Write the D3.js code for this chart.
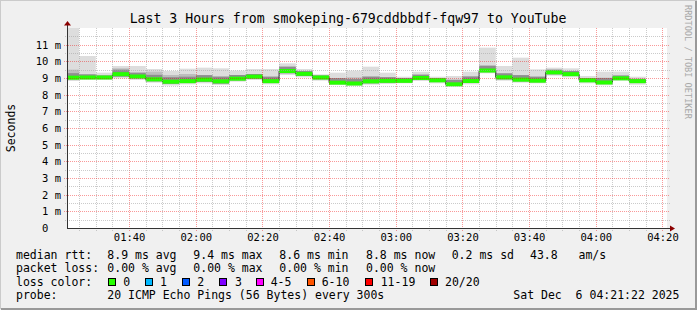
<!DOCTYPE html>
<html><head><meta charset="utf-8">
<script src="https://cdn.jsdelivr.net/npm/d3@7/dist/d3.min.js"></script>
<style>
body{margin:0;background:#f0f0f0;}
svg{display:block;}
text{font-family:"DejaVu Sans Mono",monospace;fill:#000;white-space:pre;}
</style></head><body>
<svg id="c" width="697" height="310"></svg>
<script>
// ---- data ----
const dayStr = "2025-12-06";
const rangeStart = "01:21:22";
const rangeEnd = "04:21:22";
const bucketEnds = ["01:25","01:30","01:35","01:40","01:45","01:50","01:55",
  "02:00","02:05","02:10","02:15","02:20","02:25","02:30","02:35","02:40","02:45","02:50","02:55",
  "03:00","03:05","03:10","03:15","03:20","03:25","03:30","03:35","03:40","03:45","03:50","03:55",
  "04:00","04:05","04:10","04:15"];
const rttMedian = [9.02,9.03,9.03,9.23,9.09,8.92,8.78,8.81,8.90,8.80,8.96,9.08,8.81,9.42,9.25,9.03,8.72,8.67,8.80,8.83,8.83,9.00,8.86,8.62,8.82,9.45,9.04,8.90,8.84,9.34,9.23,8.86,8.73,8.98,8.81];
const rttMax = [12.3,10.32,9.32,9.72,9.72,9.54,9.42,9.56,9.62,9.58,9.44,9.54,9.54,9.88,9.54,9.22,9.32,9.44,9.68,9.32,9.08,9.37,9.08,9.12,9.38,10.82,9.72,10.22,9.52,9.62,9.58,9.12,9.38,9.38,9.08];
const rttMin = [8.82,8.88,8.88,8.98,8.88,8.72,8.55,8.62,8.68,8.58,8.78,8.88,8.62,9.18,9.04,8.84,8.58,8.52,8.60,8.64,8.68,8.82,8.68,8.50,8.62,9.28,8.84,8.72,8.68,9.14,9.04,8.68,8.57,8.84,8.60];
const rttHigh = [9.50,9.22,9.15,9.58,9.32,9.38,9.18,9.24,9.18,9.12,9.18,9.24,9.08,9.68,9.42,9.15,9.00,9.04,9.12,9.05,9.00,9.20,9.00,8.90,9.10,9.78,9.28,9.18,9.08,9.50,9.42,9.00,9.02,9.15,8.95];
const rttLow = [8.92,8.95,8.95,9.08,8.98,8.80,8.65,8.70,8.76,8.66,8.86,8.96,8.70,9.28,9.12,8.92,8.64,8.58,8.68,8.72,8.74,8.90,8.76,8.55,8.70,9.35,8.92,8.80,8.75,9.22,9.12,8.76,8.64,8.90,8.70];
const yTicks = [0,1,2,3,4,5,6,7,8,9,10,11];
const yMinor = [0.5,1.5,2.5,3.5,4.5,5.5,6.5,7.5,8.5,9.5,10.5,11.5];
const yMaxVal = 12;
const title = "Last 3 Hours from smokeping-679cddbbdf-fqw97 to YouTube";
const yTitle = "Seconds";
const watermark = "RRDTOOL / TOBI OETIKER";
const rowLabels = ["median rtt:","packet loss:","loss color:","probe:"];
const rttStats = ["8.9 ms avg","9.4 ms max","8.6 ms min","8.8 ms now","0.2 ms sd","43.8   am/s"];
const lossStats = ["0.00 % avg","0.00 % max","0.00 % min","0.00 % now"];
const lossLabels = ["0","1","2","3","4-5","6-10","11-19","20/20"];
const lossColors = ["#26ff00","#00b8ff","#0059ff","#7e00ff","#ff00ff","#ff5500","#ff0000","#a00000"];
const probeText = "20 ICMP Echo Pings (56 Bytes) every 300s";
const stamp = "Sat Dec  6 04:21:22 2025";

// ---- layout ----
const L=67,R=667,T=28,B=228;
const svg = d3.select("#c");
const parse = d3.timeParse("%Y-%m-%d %H:%M:%S");
const t0 = parse(dayStr+" "+rangeStart), t1 = parse(dayStr+" "+rangeEnd);
const x = d3.scaleTime().domain([t0,t1]).range([L,R]);
const y = d3.scaleLinear().domain([0,yMaxVal]).range([B,T]);

// background & frame
svg.append("rect").attr("width",697).attr("height",310).attr("fill","#f0f0f0");
svg.append("path").attr("d","M0,309V0H697").attr("fill","none").attr("stroke","#cbcbcb").attr("stroke-width",2);
svg.append("path").attr("d","M1,309H696V1").attr("fill","none").attr("stroke","#999999").attr("stroke-width",2);
svg.append("rect").attr("x",L).attr("y",T).attr("width",R-L).attr("height",B-T).attr("fill","#ffffff");

svg.append("clipPath").attr("id","pc").append("rect").attr("x",L).attr("y",T).attr("width",R-L).attr("height",B-T);
const g = svg.append("g").attr("clip-path","url(#pc)");

const buckets = bucketEnds.map((s,i)=>{
  const e = parse(dayStr+" "+s+":00");
  const st = d3.timeMinute.offset(e,-5);
  return {x0: Math.max(L, x(st)), x1: x(e), med: rttMedian[i], max: rttMax[i], min: rttMin[i], hi: rttHigh[i], lo: rttLow[i]};
});

// smoke
g.selectAll(".s1").data(buckets).join("rect")
  .attr("x",d=>d.x0).attr("width",d=>d.x1-d.x0)
  .attr("y",d=>y(d.max)).attr("height",d=>y(d.min)-y(d.max)).attr("fill","#dddddd");
g.selectAll(".s2").data(buckets).join("rect")
  .attr("x",d=>d.x0).attr("width",d=>d.x1-d.x0)
  .attr("y",d=>y(d.hi)).attr("height",d=>y(d.lo)-y(d.hi)).attr("fill","#bdbdbd");
g.selectAll(".s3").data(buckets).join("rect")
  .attr("x",d=>d.x0).attr("width",d=>d.x1-d.x0)
  .attr("y",d=>Math.max(y(d.hi),y(d.med)-4.5))
  .attr("height",d=>Math.min(y(d.lo),y(d.med)+4.5)-Math.max(y(d.hi),y(d.med)-4.5)).attr("fill","#8e8e8e");

// median step line
const pts = [];
buckets.forEach(d=>{pts.push([d.x0,y(d.med)]);pts.push([d.x1,y(d.med)]);});
g.append("path").attr("d",d3.line()(pts)).attr("fill","none").attr("stroke","#202020").attr("stroke-width",1);
// loss-coloured median band
g.selectAll(".m").data(buckets).join("rect")
  .attr("x",d=>d.x0).attr("width",d=>d.x1-d.x0)
  .attr("y",d=>y(d.med)-2).attr("height",4).attr("fill",lossColors[0]);

// grid
const minorT = d3.timeMinute.every(5).range(t0,t1);
const gridG = svg.append("g");
minorT.forEach(t=>{
  const major = t.getMinutes()%20===0;
  gridG.append("line").attr("x1",Math.round(x(t))+0.5).attr("x2",Math.round(x(t))+0.5)
    .attr("y1",T).attr("y2",B+3)
    .attr("stroke",major?"rgba(240,0,0,0.4)":"rgba(160,160,160,0.55)")
    .attr("stroke-dasharray","1,1");
});
yMinor.forEach(v=>{
  gridG.append("line").attr("x1",L-2).attr("x2",R+3).attr("y1",Math.round(y(v))+0.5).attr("y2",Math.round(y(v))+0.5)
    .attr("stroke","rgba(160,160,160,0.55)").attr("stroke-dasharray","1,1");
});
yTicks.filter(v=>v>0).forEach(v=>{
  gridG.append("line").attr("x1",L-3).attr("x2",R+3).attr("y1",Math.round(y(v))+0.5).attr("y2",Math.round(y(v))+0.5)
    .attr("stroke","rgba(240,0,0,0.4)").attr("stroke-dasharray","1,1");
});

// axes
const yAxis = d3.axisLeft(y).tickValues(yTicks).tickSize(0).tickPadding(6)
  .tickFormat(d=> d===0 ? "0  " : d+" m");
const ya = svg.append("g").attr("transform",`translate(${L},0)`).call(yAxis);
ya.select(".domain").remove();
ya.selectAll("text").style("font-size","10.5px").attr("fill","#000").style("font-family","DejaVu Sans Mono");

const xAxis = d3.axisBottom(x).ticks(d3.timeMinute.every(20)).tickFormat(d3.timeFormat("%H:%M")).tickSize(0).tickPadding(6);
const xa = svg.append("g").attr("transform",`translate(0,${B})`).call(xAxis);
xa.select(".domain").remove();
xa.selectAll("text").style("font-size","10.5px").attr("fill","#000").style("font-family","DejaVu Sans Mono");

svg.append("line").attr("x1",L+0.5).attr("x2",L+0.5).attr("y1",B).attr("y2",T-4).attr("stroke","#333").attr("stroke-width",1);
svg.append("line").attr("x1",L).attr("x2",R+4).attr("y1",B+0.5).attr("y2",B+0.5).attr("stroke","#333").attr("stroke-width",1);
svg.append("path").attr("d",`M${L-3},${T-2.5}L${L+4},${T-2.5}L${L+0.5},${T-7}Z`).attr("fill","#8b0000");
svg.append("path").attr("d",`M${R+3},${B-2.5}L${R+3},${B+3.5}L${R+8},${B+0.5}Z`).attr("fill","#8b0000");

// titles
svg.append("text").attr("x",348).attr("y",23).attr("text-anchor","middle").style("font-size","13.2px").text(title);
svg.append("text").attr("transform","translate(14.5,128) rotate(-90)").attr("text-anchor","middle").style("font-size","11.5px").text(yTitle);
svg.append("text").attr("transform","translate(685,5) rotate(90)").style("font-size","8.6px").attr("fill","#a8a8a8").style("fill","#a8a8a8").text(watermark);

// legend
const rowY = [258.5,272,285.7,299.3];
const fs = "11.5px";
rowLabels.forEach((s,i)=>svg.append("text").attr("x",16).attr("y",rowY[i]).style("font-size",fs).text(s));
const colX = [107.3,193.3,279.3,366,451.7,530];
rttStats.forEach((s,i)=>svg.append("text").attr("x",colX[i]).attr("y",rowY[0]).style("font-size",fs).text(s));
lossStats.forEach((s,i)=>svg.append("text").attr("x",colX[i]).attr("y",rowY[1]).style("font-size",fs).text(s));
const boxX = [108.5,145.5,182.5,219.5,256.5,307.5,365.5,430.5];
const labX = [123.3,160,197.3,235,270.7,321.7,380.7,445];
lossLabels.forEach((s,i)=>{
  svg.append("rect").attr("x",boxX[i]).attr("y",278.5).attr("width",7).attr("height",7)
    .attr("fill",lossColors[i]).attr("stroke","#000").attr("stroke-width",1);
  svg.append("text").attr("x",labX[i]).attr("y",rowY[2]).style("font-size",fs).text(s);
});
svg.append("text").attr("x",colX[0]).attr("y",rowY[3]).style("font-size",fs).text(probeText);
svg.append("text").attr("x",513.3).attr("y",rowY[3]).style("font-size",fs).text(stamp);
</script>
</body></html>
